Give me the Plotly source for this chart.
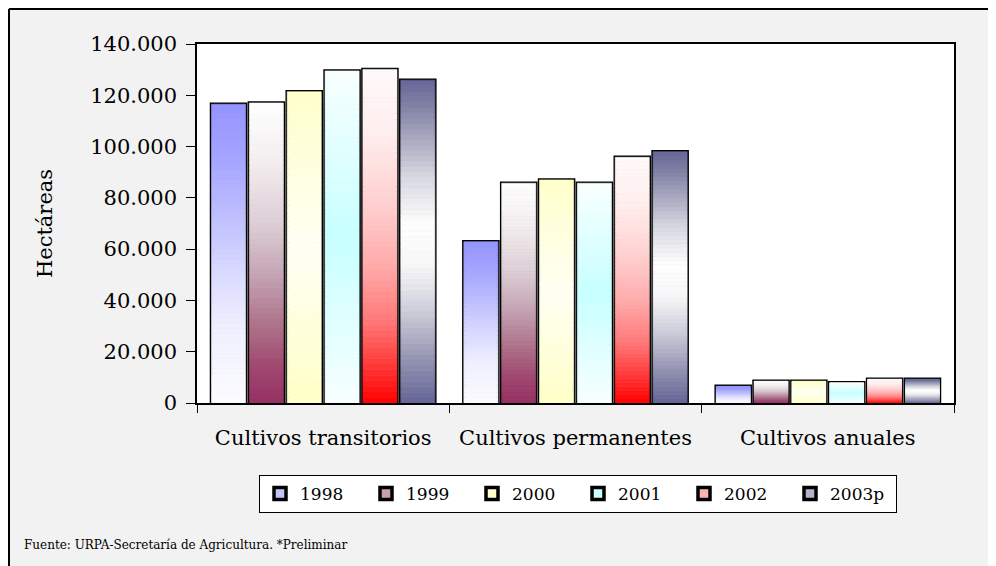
import plotly.graph_objects as go

# ---------------- data ----------------
categories = ["Cultivos transitorios", "Cultivos permanentes", "Cultivos anuales"]
years = ["1998", "1999", "2000", "2001", "2002", "2003p"]
v1998 = [116500, 62900, 6500]
v1999 = [117000, 85700, 8500]
v2000 = [121400, 87000, 8500]
v2001 = [129500, 85700, 7900]
v2002 = [130100, 95800, 9300]
v2003 = [125900, 98000, 9300]
series_values = [v1998, v1999, v2000, v2001, v2002, v2003]

y_tick_vals = [0, 20000, 40000, 60000, 80000, 100000, 120000, 140000]

# ---------------- styles ----------------
# vertical gradient stops: position 0 = bottom of bar, 1 = top of bar
gradients = [
    [(0, "#fcfcff"), (0.25, "#f0f0ff"), (0.42, "#dcdcff"), (0.59, "#c4c4ff"), (0.81, "#a6a6ff"), (1, "#9494ff")],
    [(0, "#963064"), (0.12, "#a0486f"), (0.25, "#ad6f88"), (0.42, "#c3a2b2"), (0.59, "#dccdd4"), (0.81, "#f3eef0"), (1, "#ffffff")],
    [(0, "#ffffc8"), (0.5, "#fffff4"), (1, "#ffffcc")],
    [(0, "#f8ffff"), (0.25, "#e0ffff"), (0.5, "#c8ffff"), (0.75, "#e0ffff"), (1, "#faffff")],
    [(0, "#ff0000"), (0.12, "#ff3c3c"), (0.25, "#ff7a7a"), (0.42, "#ffacac"), (0.59, "#ffcfcf"), (0.81, "#ffeeee"), (1, "#fffafa")],
    [(0, "#646496"), (0.13, "#9292b2"), (0.29, "#cfcfdc"), (0.42, "#f6f6f8"), (0.55, "#ffffff"), (0.7, "#d8d8e2"), (0.8, "#b0b0c6"), (0.92, "#8282a6"), (1, "#666699")],
]
legend_colors = ["#c4c4ff", "#c8a0b4", "#ffffcc", "#ccffff", "#ffb4b4", "#b4b4c8"]
N_SLICES = 60
FONT = "DejaVu Serif"

# figure geometry (page is offset 8px by the html body margin)
FIG_W, FIG_H = 988, 558
M_L, M_R, M_T, M_B = 189, 42, 36, 163
PW = FIG_W - M_L - M_R
PH = FIG_H - M_T - M_B


def hex_to_rgb(h):
    h = h.lstrip("#")
    return [int(h[i:i + 2], 16) for i in (0, 2, 4)]


def color_at(stops, t):
    for (p0, c0), (p1, c1) in zip(stops[:-1], stops[1:]):
        if p0 <= t <= p1:
            f = 0 if p1 == p0 else (t - p0) / (p1 - p0)
            a, b = hex_to_rgb(c0), hex_to_rgb(c1)
            r = [round(a[i] + (b[i] - a[i]) * f) for i in range(3)]
            return "rgb(%d,%d,%d)" % tuple(r)
    return stops[-1][1]


fig = go.Figure()

for k, (name, vals) in enumerate(zip(years, series_values)):
    # outline / legend trace
    fig.add_trace(go.Bar(
        x=categories, y=vals, name=name, offsetgroup=str(k), legendrank=k + 1,
        marker=dict(color=legend_colors[k], line=dict(color="black", width=3.5)),
        hoverinfo="x+y+name",
    ))
    # gradient slices on top
    for i in range(N_SLICES):
        t = (i + 0.5) / N_SLICES
        c = color_at(gradients[k], t)
        fig.add_trace(go.Bar(
            x=categories,
            y=[v / N_SLICES for v in vals],
            base=[v * i / N_SLICES for v in vals],
            offsetgroup=str(k), showlegend=False, hoverinfo="skip",
            marker=dict(color=c, line=dict(color=c, width=0.6)),
        ))

fig.update_layout(
    width=FIG_W, height=FIG_H,
    margin=dict(l=M_L, r=M_R, t=M_T, b=M_B, autoexpand=False),
    paper_bgcolor="#f2f2f2", plot_bgcolor="white",
    barmode="group", bargap=0.1, bargroupgap=0.1,
    separators=",.",
    font=dict(family=FONT, size=18, color="black"),
    showlegend=True,
    legend=dict(
        orientation="h", xref="container", yref="container",
        x=(259 - 8) / FIG_W, y=1 - (475 - 8) / FIG_H, xanchor="left", yanchor="top",
        bgcolor="white", bordercolor="black", borderwidth=1,
        font=dict(family=FONT, size=17, color="black"),
        entrywidth=61, entrywidthmode="pixels", traceorder="normal",
    ),
    xaxis=dict(
        type="category", tickson="boundaries", ticks="outside", ticklen=8,
        tickcolor="black", showline=True, linecolor="black", linewidth=1.5,
        mirror=True, showgrid=False, tickfont=dict(family=FONT, size=21),
        ticklabelstandoff=15,
    ),
    yaxis=dict(
        range=[0, 140000], tickvals=y_tick_vals, tickformat=",d",
        ticks="outside", ticklen=9, tickcolor="black", showline=True,
        linecolor="black", linewidth=1.5, mirror=True, showgrid=False,
        zeroline=False, tickfont=dict(family=FONT, size=21),
        ticklabelstandoff=5,
        title=dict(text="Hectáreas", font=dict(family=FONT, size=21), standoff=32),
    ),
    annotations=[dict(
        text="Fuente: URPA-Secretaría de Agricultura. *Preliminar",
        xref="paper", yref="paper",
        x=(22 - 8 - M_L) / PW, y=-(545 - 8 - M_T - PH) / PH,
        xanchor="left", yanchor="middle", showarrow=False,
        font=dict(family=FONT, size=12, color="black"),
    )],
    shapes=[
        # outer chart frame (left and top edges visible in the viewport)
        dict(type="line", xref="paper", yref="paper",
             x0=(1 - M_L) / PW, x1=(1 - M_L) / PW, y0=-(FIG_H - M_T - PH) / PH, y1=1 + (M_T - 1) / PH,
             line=dict(color="black", width=2)),
        dict(type="line", xref="paper", yref="paper",
             x0=(1 - M_L) / PW, x1=1 + M_R / PW, y0=1 + (M_T - 1) / PH, y1=1 + (M_T - 1) / PH,
             line=dict(color="black", width=2)),
    ],
)

fig.write_html("out.html")
